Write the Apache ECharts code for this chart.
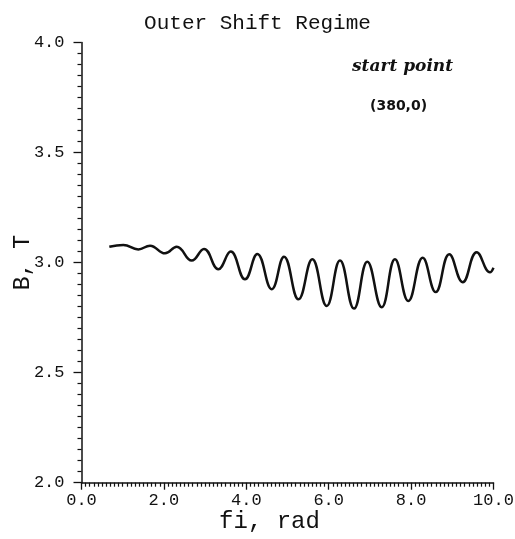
<!DOCTYPE html>
<html>
<head>
<meta charset="utf-8">
<script src="https://cdn.jsdelivr.net/npm/echarts@6/dist/echarts.min.js"></script>
<style>
  html, body { margin: 0; padding: 0; background: #fff; }
  #chart { width: 515px; height: 539px; }
</style>
</head>
<body>
<div id="chart"></div>
<script>
// Field angle (rad) at the turning points of the oscillation
const fi = [0.675, 1.015, 1.379, 1.663, 2.027, 2.311, 2.675, 2.973, 3.320, 3.621,
            3.968, 4.267, 4.617, 4.915, 5.267, 5.602, 5.951, 6.274, 6.614, 6.937,
            7.286, 7.609, 7.932, 8.282, 8.597, 8.927, 9.252, 9.592, 9.915, 10.0];
// Magnetic field B (T) at those angles
const bField = [3.072, 3.080, 3.060, 3.077, 3.042, 3.072, 3.009, 3.062, 2.970, 3.050,
                2.924, 3.039, 2.879, 3.027, 2.833, 3.015, 2.803, 3.009, 2.791, 3.004,
                2.797, 3.015, 2.826, 3.022, 2.866, 3.038, 2.911, 3.047, 2.956, 2.977];
// Axis ranges and label steps
const xRange = [0, 10];
const yRange = [2, 4];
const xStep = 2;
const yStep = 0.5;

const points = fi.map((x, i) => [x, bField[i]]);

const mono = 'Liberation Mono';
const chart = echarts.init(document.getElementById('chart'), null, { renderer: 'canvas' });

chart.setOption({
  backgroundColor: '#ffffff',
  animation: false,
  title: {
    text: 'Outer Shift Regime',
    left: 'center',
    top: 8,
    textStyle: { fontFamily: mono, fontSize: 21, fontWeight: 'normal', color: '#111' }
  },
  graphic: [
    {
      type: 'text', left: 352, top: 58,
      style: { text: 'start point', font: 'italic bold 17px "DejaVu Serif"', fill: '#111' }
    },
    {
      type: 'text', left: 370, top: 99,
      style: { text: '(380,0)', font: 'bold 14px "DejaVu Sans"', fill: '#111' }
    }
  ],
  grid: {
    left: 81.5, right: 21.5, top: 42.5, bottom: 56.3,
    containLabel: false, outerBoundsMode: 'none'
  },
  xAxis: {
    type: 'value',
    min: xRange[0], max: xRange[1], interval: xStep,
    name: 'fi, rad',
    nameLocation: 'middle',
    nameGap: 27,
    nameMoveOverlap: false,
    nameTextStyle: { fontFamily: mono, fontSize: 24, color: '#111', padding: [0, 36, 0, 0] },
    axisLine: { show: true, lineStyle: { color: '#111', width: 1.5 } },
    axisTick: { show: true, length: 7, inside: false, lineStyle: { color: '#111', width: 1.3 } },
    minorTick: { show: true, splitNumber: 20, length: 4, lineStyle: { color: '#111', width: 1.2 } },
    splitLine: { show: false },
    minorSplitLine: { show: false },
    axisLabel: {
      fontFamily: mono, fontSize: 17, color: '#111', margin: 9,
      formatter: v => v.toFixed(1)
    }
  },
  yAxis: {
    type: 'value',
    min: yRange[0], max: yRange[1], interval: yStep,
    name: 'B, T',
    nameLocation: 'middle',
    nameGap: 47,
    nameRotate: 90,
    nameMoveOverlap: false,
    nameTextStyle: { fontFamily: mono, fontSize: 23, color: '#111' },
    axisLine: { show: true, lineStyle: { color: '#111', width: 1.5 } },
    axisTick: { show: true, length: 8, inside: false, lineStyle: { color: '#111', width: 1.3 } },
    minorTick: { show: true, splitNumber: 10, length: 4, lineStyle: { color: '#111', width: 1.2 } },
    splitLine: { show: false },
    minorSplitLine: { show: false },
    axisLabel: {
      fontFamily: mono, fontSize: 17, color: '#111', margin: 17,
      formatter: v => v.toFixed(1)
    }
  },
  series: [{
    type: 'line',
    data: points,
    smooth: 0.45,
    symbol: 'none',
    lineStyle: { color: '#111', width: 2.5 }
  }]
});
</script>
</body>
</html>
